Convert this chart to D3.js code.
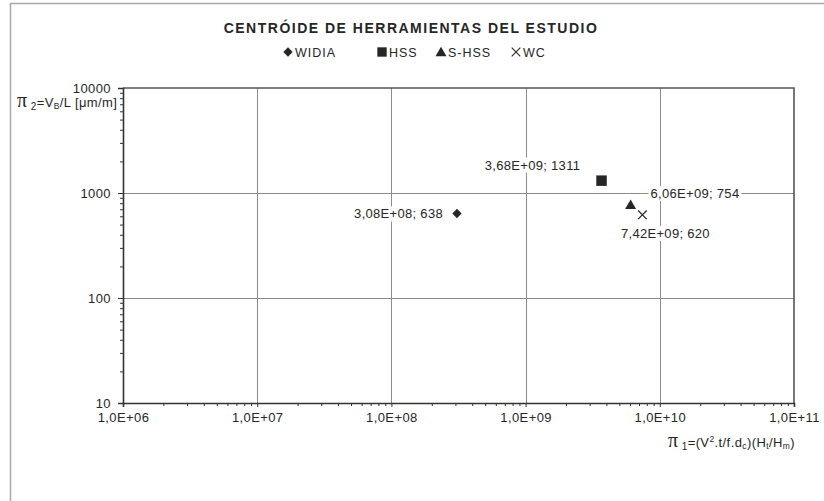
<!DOCTYPE html>
<html><head><meta charset="utf-8">
<script src="https://cdn.jsdelivr.net/npm/d3@7"></script>
<style>
body{margin:0;background:#fff;}
svg{display:block;font-family:"Liberation Sans",Arial,sans-serif;}
</style></head>
<body><svg id="chart" width="824" height="501"></svg>
<script>
const seriesNames = ["WIDIA", "HSS", "S-HSS", "WC"];
const xValues = [3.08e8, 3.68e9, 6.06e9, 7.42e9];
const yValues = [638, 1311, 754, 620];
const pointLabels = ["3,08E+08; 638", "3,68E+09; 1311", "6,06E+09; 754", "7,42E+09; 620"];
const xTicks = [1e6, 1e7, 1e8, 1e9, 1e10, 1e11];
const xTickLabels = ["1,0E+06", "1,0E+07", "1,0E+08", "1,0E+09", "1,0E+10", "1,0E+11"];
const yTicks = [10, 100, 1000, 10000];
const yTickLabels = ["10", "100", "1000", "10000"];

const symbolTypes = [d3.symbolDiamond2, d3.symbolSquare, d3.symbolTriangle, d3.symbolX];
const symbolSizes = [55, 110, 52, 50];
const labelPos = ["left", "top", "right", "bottom"];

const svg = d3.select("#chart");
const L = 123, R = 794, T = 88, B = 403;
const x = d3.scaleLog().domain([1e6, 1e11]).range([L, R]);
const y = d3.scaleLog().domain([10, 10000]).range([B, T]);
const ink = "#262626";

// outer chart border (left & top visible)
svg.append("path").attr("d", "M10.5,501 V3.5 H824").attr("fill", "none").attr("stroke", "#a8a8a8").attr("stroke-width", 1.5);

// title
svg.append("text").attr("x", 411).attr("y", 33).attr("text-anchor", "middle")
  .attr("font-size", 14).attr("font-weight", "bold").attr("letter-spacing", 1.5).attr("fill", ink)
  .text("CENTRÓIDE DE HERRAMIENTAS DEL ESTUDIO");

// legend
const legendX = [288, 382, 441, 516];
const lg = svg.append("g");
seriesNames.forEach((n, i) => {
  lg.append("path").attr("transform", `translate(${legendX[i]},${i === 2 ? 53 : 52})`)
    .attr("d", d3.symbol().type(symbolTypes[i]).size(symbolSizes[i] * (i === 1 ? 0.8 : 1))())
    .attr("fill", i === 3 ? "none" : ink).attr("stroke", ink).attr("stroke-width", i === 3 ? 1.1 : 0);
  lg.append("text").attr("x", legendX[i] + 7).attr("y", 56.5).attr("font-size", 12.5)
    .attr("letter-spacing", 1).attr("fill", ink).text(n);
});

// gridlines
const grid = svg.append("g").attr("stroke", "#8c8c8c").attr("stroke-width", 1);
xTicks.slice(1, -1).forEach(t => grid.append("line").attr("x1", Math.round(x(t)) + 0.5).attr("x2", Math.round(x(t)) + 0.5).attr("y1", T).attr("y2", B));
yTicks.slice(1, -1).forEach(t => grid.append("line").attr("y1", Math.round(y(t)) + 0.5).attr("y2", Math.round(y(t)) + 0.5).attr("x1", L).attr("x2", R));

// plot frame top/right
svg.append("path").attr("d", `M${L},${T} H${R} V${B}`).attr("fill", "none").attr("stroke", "#555").attr("stroke-width", 1.6);

// axes
const xMinor = [];
for (let e = 6; e < 11; e++) for (let m = 2; m <= 9; m++) xMinor.push(m * Math.pow(10, e));
const yMinor = [];
for (let e = 1; e < 4; e++) for (let m = 2; m <= 9; m++) yMinor.push(m * Math.pow(10, e));

const gx = svg.append("g").attr("transform", `translate(0,${B})`);
gx.call(d3.axisBottom(x).tickValues(xTicks).tickFormat((d, i) => xTickLabels[i]).tickSize(4).tickPadding(6));
gx.append("g").call(d3.axisBottom(x).tickValues(xMinor).tickFormat("").tickSize(3)).select(".domain").remove();
const gy = svg.append("g").attr("transform", `translate(${L},0)`);
gy.call(d3.axisLeft(y).tickValues(yTicks).tickFormat((d, i) => yTickLabels[i]).tickSize(5).tickPadding(7));
gy.append("g").call(d3.axisLeft(y).tickValues(yMinor).tickFormat("").tickSize(3)).select(".domain").remove();
svg.selectAll(".domain").attr("stroke", "#333").attr("stroke-width", 1.6);
svg.selectAll(".tick line").attr("stroke", "#333");
svg.selectAll(".tick text").attr("font-size", 13).attr("fill", ink).attr("font-family", "Liberation Sans, Arial, sans-serif").attr("letter-spacing", 0.4);

// axis titles
const yt = svg.append("text").attr("x", 17).attr("y", 107).attr("font-size", 13).attr("letter-spacing", 0.4).attr("fill", ink);
yt.append("tspan").attr("font-family", "Liberation Serif, serif").attr("font-size", 20).text("π");
yt.append("tspan").attr("font-size", 10).attr("dy", 3).text(" 2");
yt.append("tspan").attr("dy", -3).text("=V");
yt.append("tspan").attr("font-size", 8.5).attr("dy", 2).text("B");
yt.append("tspan").attr("dy", -2).text("/L [μm/m]");

const xt = svg.append("text").attr("x", 668).attr("y", 447).attr("font-size", 13).attr("letter-spacing", 0.4).attr("fill", ink);
xt.append("tspan").attr("font-family", "Liberation Serif, serif").attr("font-size", 20).text("π");
xt.append("tspan").attr("font-size", 10).attr("dy", 3).text(" 1");
xt.append("tspan").attr("dy", -3).text("=(V");
xt.append("tspan").attr("font-size", 8.5).attr("dy", -5).text("2");
xt.append("tspan").attr("dy", 5).text(".t/f.d");
xt.append("tspan").attr("font-size", 8.5).attr("dy", 2).text("c");
xt.append("tspan").attr("dy", -2).text(")(H");
xt.append("tspan").attr("font-size", 8.5).attr("dy", 2).text("t");
xt.append("tspan").attr("dy", -2).text("/H");
xt.append("tspan").attr("font-size", 8.5).attr("dy", 2).text("m");
xt.append("tspan").attr("dy", -2).text(")");

// data labels with white background
const lblG = svg.append("g");
seriesNames.forEach((n, i) => {
  const px = x(xValues[i]), py = y(yValues[i]);
  let tx = px, ty = py + 4, anchor = "middle";
  if (labelPos[i] === "left") { tx = px - 14; anchor = "end"; ty = py + 5; }
  if (labelPos[i] === "right") { tx = px + 20; anchor = "start"; ty = py - 8; }
  if (labelPos[i] === "top") { tx = px - 69; ty = py - 11; }
  if (labelPos[i] === "bottom") { tx = px + 23; ty = py + 23; }
  const g = lblG.append("g");
  const t = g.append("text").attr("x", tx).attr("y", ty).attr("text-anchor", anchor)
    .attr("font-size", 13).attr("letter-spacing", 0.3).attr("fill", ink).text(pointLabels[i]);
  const bb = t.node().getBBox();
  g.insert("rect", "text").attr("x", bb.x - 2).attr("y", bb.y).attr("width", bb.width + 4).attr("height", bb.height).attr("fill", "#fff");
});

// markers
svg.append("g").selectAll("path").data(seriesNames).join("path")
  .attr("transform", (d, i) => `translate(${x(xValues[i])},${y(yValues[i])})`)
  .attr("d", (d, i) => d3.symbol().type(symbolTypes[i]).size(symbolSizes[i])())
  .attr("fill", (d, i) => i === 3 ? "none" : ink)
  .attr("stroke", ink).attr("stroke-width", (d, i) => i === 3 ? 1.2 : 0);
</script></body></html>
